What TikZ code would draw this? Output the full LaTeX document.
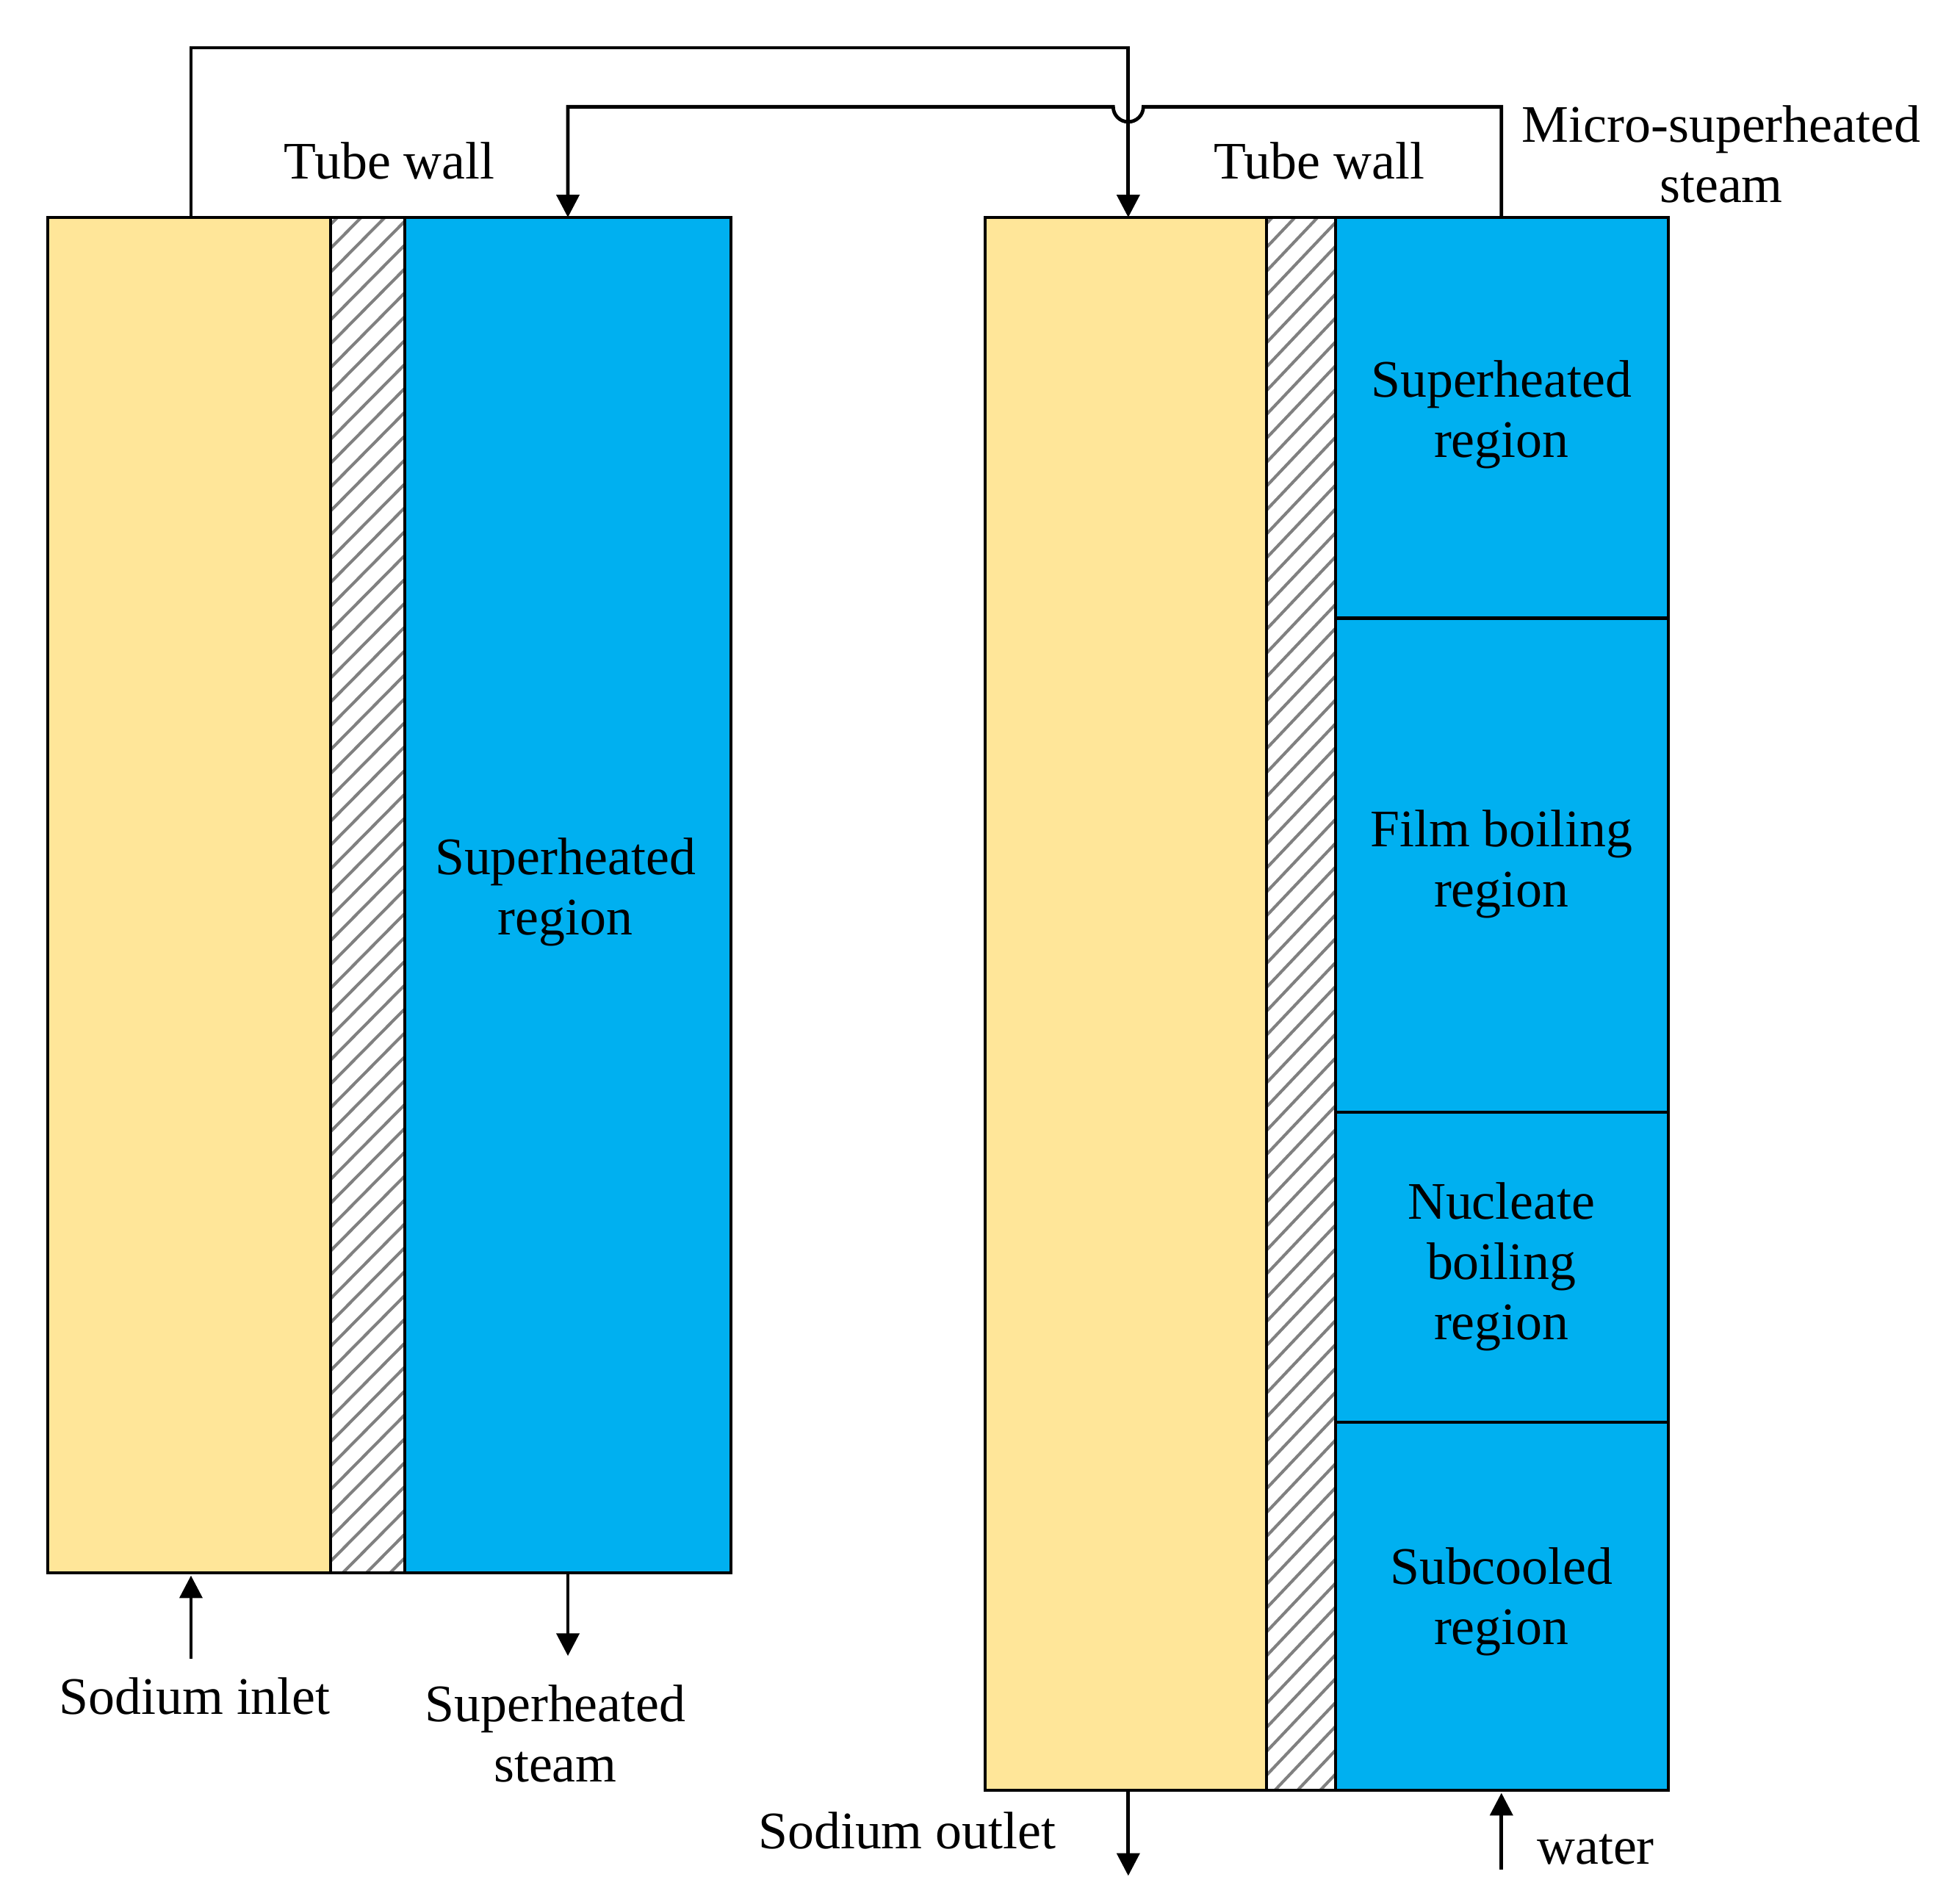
\documentclass[tikz,border=0pt]{standalone}
\usepackage{fontspec}
\setmainfont{Liberation Serif}
\usetikzlibrary{arrows.meta}
\definecolor{sod}{HTML}{FFE699}
\definecolor{wat}{HTML}{00B0F0}
\begin{document}
\begin{tikzpicture}[x=0.5pt,y=-0.5pt,
 box/.style={draw=black,line width=1.2pt},
 ln/.style={line width=1.4pt},
 arr/.style={ln,-{Triangle[length=9pt,width=9pt]}},
 lab/.style={font=\fontsize{21}{24}\selectfont,align=center,inner sep=0pt}]
\useasboundingbox (0,0) rectangle (1560,1511);
% left column
\fill[sod] (38,173) rectangle (263,1252);
\begin{scope}\clip (263,173) rectangle (322,1252);
\foreach \i in {0,...,70}{\draw[gray,line width=1.2pt] (243,180+\i*19) -- (342,80+\i*19);}
\end{scope}
\fill[wat] (322,173) rectangle (582,1252);
\draw[box] (38,173) rectangle (582,1252);
\draw[box] (263,173) -- (263,1252) (322,173) -- (322,1252);
% right column
\fill[sod] (784,173) rectangle (1008,1425);
\begin{scope}\clip (1008,173) rectangle (1063,1425);
\foreach \i in {0,...,80}{\draw[gray,line width=1.2pt] (988,180+\i*19) -- (1083,80+\i*19);}
\end{scope}
\fill[wat] (1063,173) rectangle (1328,1425);
\draw[box] (784,173) rectangle (1328,1425);
\draw[box] (1008,173) -- (1008,1425) (1063,173) -- (1063,1425);
\draw[box] (1063,492) -- (1328,492) (1063,885) -- (1328,885) (1063,1132) -- (1328,1132);
% coordinates
\coordinate (a1) at (152,173); \coordinate (a2) at (898,173);
\coordinate (b1) at (1195,173); \coordinate (b2) at (452,173);
\draw[arr] (a1) -- (152,38) -- (898,38) -- (a2);
\draw[arr] (b1) -- (1195,85) -- (910,85) arc[start angle=0,end angle=180,radius=12] -- (452,85) -- (b2);
\coordinate (i0) at (152,1320); \coordinate (i1) at (152,1254);
\draw[arr] (i0) -- (i1);
\coordinate (s0) at (452,1253); \coordinate (s1) at (452,1318);
\draw[arr] (s0) -- (s1);
\coordinate (o0) at (898,1426); \coordinate (o1) at (898,1493);
\draw[arr] (o0) -- (o1);
\coordinate (w0) at (1195,1488); \coordinate (w1) at (1195,1427);
\draw[arr] (w0) -- (w1);
% labels
\node[lab] (t1) at (310,128) {Tube wall};
\node[lab] (t2) at (1050,128) {Tube wall};
\node[lab] (ms) at (1370,123) {Micro-superheated\\steam};
\node[lab] (si) at (155,1350) {Sodium inlet};
\node[lab] (ss) at (442,1380) {Superheated\\steam};
\node[lab] (so) at (722,1457) {Sodium outlet};
\node[lab] (wa) at (1270,1472) {water};
\node[lab] (r0) at (450,710) {Superheated\\region};
\node[lab] (r1) at (1195,330) {Superheated\\region};
\node[lab] (r2) at (1195,688) {Film boiling\\region};
\node[lab] (r3) at (1195,1008) {Nucleate\\boiling\\region};
\node[lab] (r4) at (1195,1275) {Subcooled\\region};
\end{tikzpicture}
\end{document}
